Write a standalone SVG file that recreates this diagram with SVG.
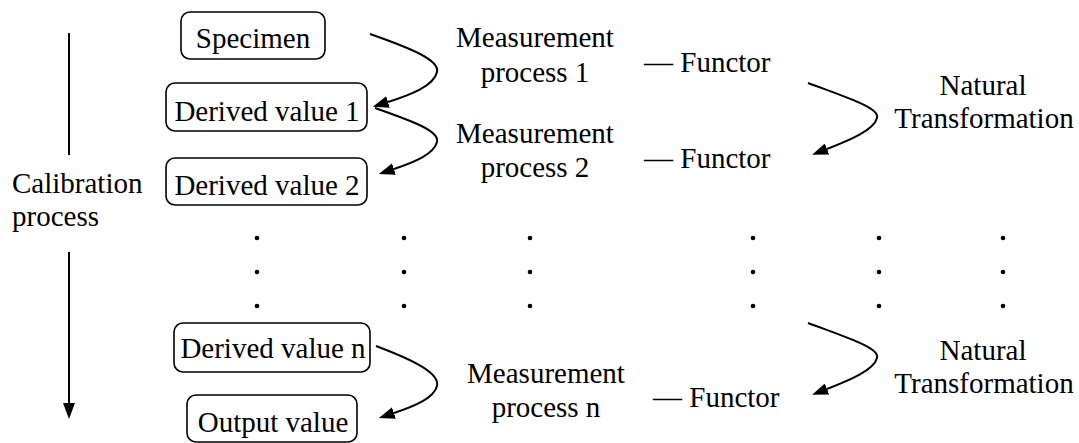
<svg xmlns="http://www.w3.org/2000/svg" width="1079" height="443" viewBox="0 0 1079 443" font-family="Liberation Serif, Times New Roman, serif" font-size="29">
<style>
.c{text-anchor:middle}
.box{fill:#fff;stroke:#000;stroke-width:1.6}
.ln{fill:none;stroke:#000;stroke-width:2}
.dot{fill:#000}
</style>
<defs>
<marker id="ah" markerUnits="userSpaceOnUse" markerWidth="16" markerHeight="12" viewBox="0 0 16 12" refX="0" refY="6" orient="auto">
<path d="M0,0 L16,6 L0,12 z" fill="#000"/>
</marker>
</defs>
<rect width="1079" height="443" fill="#fff"/>
<g id="connectors">
<path class="ln" d="M69,33 L69,155"/>
<path class="ln" d="M69,252 L69,403" marker-end="url(#ah)"/>
<path class="ln" d="M370,34 C410,48 440,60 437,72 C434,86 410,95 388,102" marker-end="url(#ah)"/>
<path class="ln" d="M375,108 C412,121 440,131 437,142 C434,154 415,162 394,169" marker-end="url(#ah)"/>
<path class="ln" d="M376,346 C413,360 440,373 437,386 C434,398 415,406 394,413" marker-end="url(#ah)"/>
<path class="ln" d="M808,83 C848,98 880,108 877,118 C874,130 850,140 827,149" marker-end="url(#ah)"/>
<path class="ln" d="M808,323 C848,338 880,348 877,358 C874,370 850,380 827,389" marker-end="url(#ah)"/>
</g>
<g id="calibration">
<text x="12" y="193">Calibration</text>
<text x="12" y="226">process</text>
</g>
<g id="specimen"><rect class="box" x="181" y="12" width="144" height="47" rx="9"/><text class="c" x="253" y="48">Specimen</text></g>
<g id="derived1"><rect class="box" x="166" y="83" width="201" height="48" rx="9"/><text class="c" x="267" y="121">Derived value 1</text></g>
<g id="derived2"><rect class="box" x="166" y="158" width="201" height="47" rx="9"/><text class="c" x="267" y="195">Derived value 2</text></g>
<g id="derivedn"><rect class="box" x="174" y="323" width="196" height="49" rx="9"/><text class="c" x="273" y="358">Derived value n</text></g>
<g id="output"><rect class="box" x="187" y="395" width="170" height="47" rx="9"/><text class="c" x="273" y="432">Output value</text></g>
<g id="mp1"><text class="c" x="535" y="47">Measurement</text><text class="c" x="535" y="82">process 1</text></g>
<g id="mp2"><text class="c" x="535" y="143">Measurement</text><text class="c" x="535" y="177">process 2</text></g>
<g id="mpn"><text class="c" x="546" y="383">Measurement</text><text class="c" x="546" y="417">process n</text></g>
<g id="functor1"><text x="644" y="72">— Functor</text></g>
<g id="functor2"><text x="644" y="168">— Functor</text></g>
<g id="functorn"><text x="653" y="407">— Functor</text></g>
<g id="nt1"><text class="c" x="983" y="95">Natural</text><text class="c" x="984" y="128">Transformation</text></g>
<g id="nt2"><text class="c" x="983" y="360">Natural</text><text class="c" x="984" y="393">Transformation</text></g>
<g id="dots">
<circle class="dot" cx="257" cy="238" r="2.3"/><circle class="dot" cx="257" cy="272" r="2.3"/><circle class="dot" cx="257" cy="306" r="2.3"/>
<circle class="dot" cx="404" cy="238" r="2.3"/><circle class="dot" cx="404" cy="272" r="2.3"/><circle class="dot" cx="404" cy="306" r="2.3"/>
<circle class="dot" cx="530" cy="238" r="2.3"/><circle class="dot" cx="530" cy="272" r="2.3"/><circle class="dot" cx="530" cy="306" r="2.3"/>
<circle class="dot" cx="753" cy="238" r="2.3"/><circle class="dot" cx="753" cy="272" r="2.3"/><circle class="dot" cx="753" cy="306" r="2.3"/>
<circle class="dot" cx="879" cy="238" r="2.3"/><circle class="dot" cx="879" cy="272" r="2.3"/><circle class="dot" cx="879" cy="306" r="2.3"/>
<circle class="dot" cx="1003" cy="238" r="2.3"/><circle class="dot" cx="1003" cy="272" r="2.3"/><circle class="dot" cx="1003" cy="306" r="2.3"/>
</g>
</svg>
